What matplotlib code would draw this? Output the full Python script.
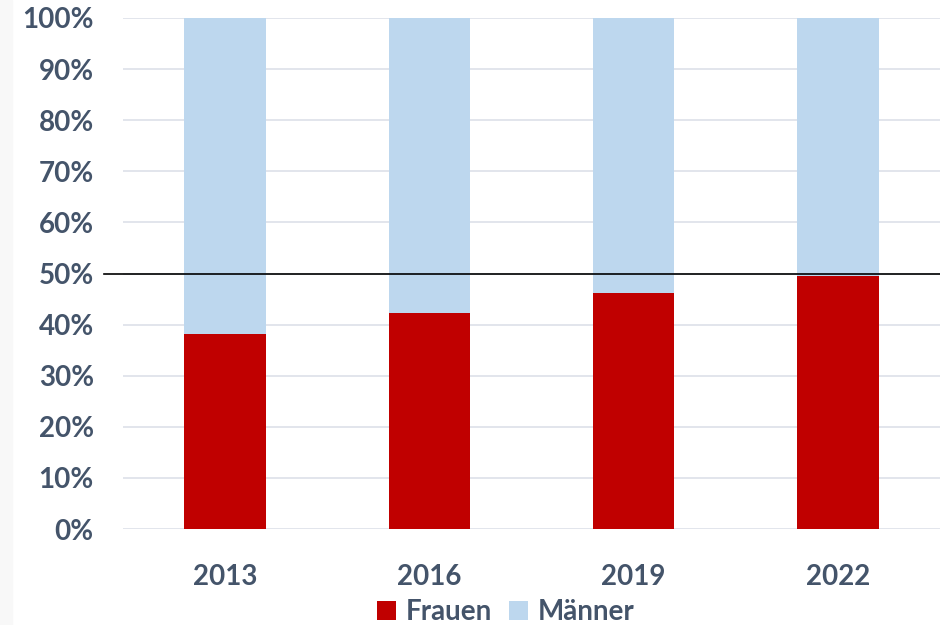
import matplotlib.pyplot as plt
import numpy as np

# Daten
jahre = ["2013", "2016", "2019", "2022"]
frauen = [38.2, 42.3, 46.2, 49.5]
maenner = [100 - f for f in frauen]
y_ticks = [0, 10, 20, 30, 40, 50, 60, 70, 80, 90, 100]

rot = "#C00000"
blau = "#BDD7EE"
text_farbe = "#44546A"

plt.rcParams["font.family"] = ["Lato", "DejaVu Sans"]

fig = plt.figure(figsize=(9.4, 6.25), dpi=100)
# schmaler, heller Rand links
fig.patches.append(plt.Rectangle((0, 0), 12 / 940, 1, transform=fig.transFigure,
                                 color="#F8F8F8", zorder=0))
ax = fig.add_axes([123 / 940, 1 - 529 / 625, 817 / 940, 511 / 625])
ax.patch.set_alpha(0)

x = np.arange(len(jahre))
ax.bar(x, frauen, width=0.4, color=rot, label="Frauen", zorder=3)
ax.bar(x, maenner, width=0.4, bottom=frauen, color=blau, label="Männer", zorder=3)

ax.set_xlim(-0.5, len(jahre) - 0.5)
ax.set_ylim(0, 100)
ax.set_yticks(y_ticks)
ax.set_yticklabels([f"{v}%" for v in y_ticks])
ax.set_xticks(x)
ax.set_xticklabels(jahre)

ax.grid(axis="y", color="#DFE3EA", linewidth=1.3, zorder=0)
ax.tick_params(length=0, labelsize=20, labelcolor=text_farbe)
ax.tick_params(axis="y", pad=21)
ax.tick_params(axis="x", pad=25)
for lbl in ax.get_xticklabels() + ax.get_yticklabels():
    lbl.set_fontweight("bold")
for s in ax.spines.values():
    s.set_visible(False)

# 50%-Linie
ax.axhline(50, xmin=-19 / 817, xmax=1, color="black", linewidth=1.2, zorder=4, clip_on=False)

leg = fig.legend(loc="center", bbox_to_anchor=(0.538, 1 - 612 / 625), ncol=2, frameon=False,
                 prop={"size": 20, "weight": "bold"}, handlelength=0.7, handleheight=0.7,
                 handletextpad=0.35, columnspacing=0.6)
for t in leg.get_texts():
    t.set_color(text_farbe)

fig.savefig("out.png", dpi=100)
